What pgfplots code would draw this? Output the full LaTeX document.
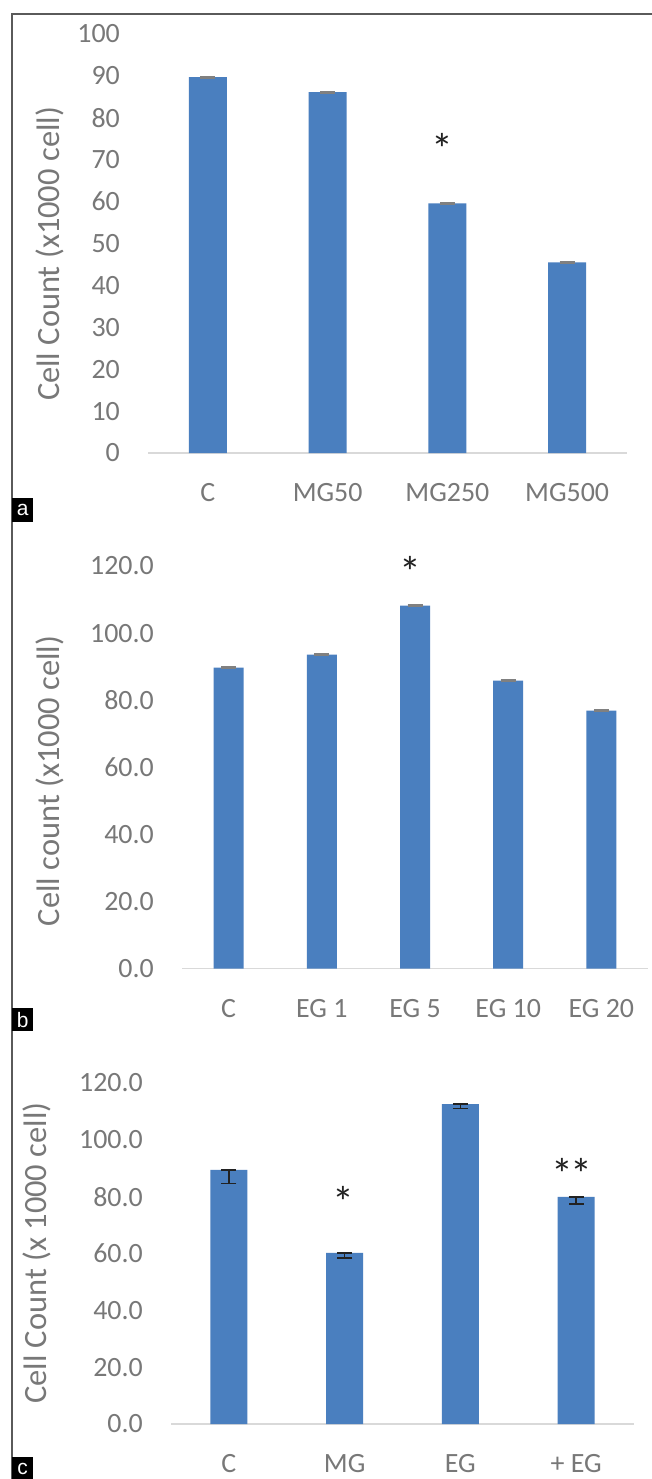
\documentclass[border=0pt]{standalone}
\usepackage{pgfplots}
\pgfplotsset{compat=1.18}
\usepackage{fontspec}
\setmainfont{Carlito}
\newfontfamily\labelfont{Liberation Sans}
\definecolor{barblue}{HTML}{4A7FBF}
\definecolor{txtgrey}{HTML}{787878}
\definecolor{axgrey}{HTML}{D9D9D9}
\definecolor{framegrey}{HTML}{5A5A5A}
\definecolor{errgrey}{HTML}{808080}
\definecolor{starblack}{HTML}{222222}

\pgfplotsset{
  panel/.style={
    scale only axis,
    ybar,
    axis x line=bottom, axis y line=left,
    y axis line style={draw=none},
    x axis line style={draw=axgrey, line width=1.5bp, -},
    major tick length=0pt,
    ymin=0,
    clip=false,
    tick label style={font=\fontsize{28}{30}\selectfont, text=txtgrey},
    yticklabel style={anchor=east, inner sep=0pt, xshift=-28bp},
    xticklabel style={anchor=base, inner sep=0pt, yshift=-48.5bp},
    every axis y label/.style={rotate=90, anchor=center, font=\fontsize{32.6}{36}\selectfont, text=txtgrey},
  },
}
\tikzset{stars/.style={font=\fontsize{44}{46}\selectfont, text=starblack, inner sep=0pt, yshift=-9bp}}

\begin{document}
\begin{tikzpicture}
\path[use as bounding box, fill=white] (0,0) rectangle (652bp,-1479bp);
\draw[framegrey, line width=1.3bp] (12bp,-1479bp) -- (12bp,-14bp) -- (652bp,-14bp);

% ---------- panel a ----------
\begin{axis}[panel,
  at={(148bp,-453bp)}, anchor=south west,
  width=479bp, height=419bp,
  xmin=-0.5, xmax=3.5, ymax=100,
  bar width=38bp,
  xtick={0,1,2,3}, xticklabels={C,MG50,MG250,MG500},
  ytick={0,10,20,30,40,50,60,70,80,90,100},
  yticklabels={0,10,20,30,40,50,60,70,80,90,100},
  ylabel={Cell Count (x1000 cell)},
  ylabel style={at={(axis description cs:-0.2046,0.475)}},
]
\addplot[fill=barblue, draw=none,
  error bars/.cd, y dir=both, y explicit,
  error bar style={draw=errgrey, line width=1.2bp},
  error mark options={draw=errgrey, rotate=90, mark size=7.5bp, line width=1.5bp}]
  coordinates {(0,89.7) +- (0,0.15) (1,86.1) +- (0,0.15) (2,59.6) +- (0,0.15) (3,45.5) +- (0,0.15)};
\node[stars] at (axis cs:1.96,74.6) {*};
\end{axis}

% ---------- panel b ----------
\begin{axis}[panel,
  at={(182bp,-968.5bp)}, anchor=south west,
  width=466bp, height=402.5bp,
  xmin=-0.5, xmax=4.5, ymax=120,
  bar width=30bp,
  xtick={0,1,2,3,4}, xticklabels={C,EG 1,EG 5,EG 10,EG 20},
  ytick={0,20,40,60,80,100,120},
  yticklabels={0.0,20.0,40.0,60.0,80.0,100.0,120.0},
  ylabel={Cell count (x1000 cell)},
  ylabel style={at={(axis description cs:-0.283,0.466)}},
]
\addplot[fill=barblue, draw=none,
  error bars/.cd, y dir=both, y explicit,
  error bar style={draw=errgrey, line width=1.2bp},
  error mark options={draw=errgrey, rotate=90, mark size=7.5bp, line width=1.5bp}]
  coordinates {(0,89.7) +- (0,0.15) (1,93.6) +- (0,0.15) (2,108.2) +- (0,0.15) (3,85.8) +- (0,0.15) (4,76.9) +- (0,0.15)};
\node[stars] at (axis cs:1.946,120.9) {*};
\end{axis}

% ---------- panel c ----------
\begin{axis}[panel,
  at={(171bp,-1424bp)}, anchor=south west,
  width=463bp, height=341bp,
  xmin=-0.5, xmax=3.5, ymax=120,
  bar width=37bp,
  xtick={0,1,2,3}, xticklabels={C,MG,EG,+ EG},
  ytick={0,20,40,60,80,100,120},
  yticklabels={0.0,20.0,40.0,60.0,80.0,100.0,120.0},
  ylabel={Cell Count (x 1000 cell)},
  ylabel style={at={(axis description cs:-0.289,0.501)}},
]
\addplot[fill=barblue, draw=none,
  error bars/.cd, y dir=both, y explicit,
  error bar style={draw=starblack, line width=1.5bp},
  error mark options={draw=starblack, rotate=90, mark size=7.5bp, line width=1.5bp}]
  coordinates {(0,89.4) += (0,0) -= (0,4.7) (1,60.2) += (0,0) -= (0,1.8) (2,112.6) += (0,0) -= (0,1.6) (3,79.9) += (0,0) -= (0,2.5)};
\node[stars] at (axis cs:0.986,81.3) {*};
\node[stars] at (axis cs:2.964,91.1) {*\kern-3bp*};
\end{axis}

% ---------- panel labels ----------
\node[fill=black, text=white, font=\labelfont\fontsize{21}{21}\selectfont, minimum width=21bp, minimum height=24bp, inner sep=0pt, anchor=north west] at (12bp,-498bp) {a};
\node[fill=black, text=white, font=\labelfont\fontsize{21}{21}\selectfont, minimum width=21bp, minimum height=23bp, inner sep=0pt, anchor=north west] at (12bp,-1008bp) {b};
\node[fill=black, text=white, font=\labelfont\fontsize{21}{21}\selectfont, minimum width=21bp, minimum height=23bp, inner sep=0pt, anchor=north west] at (12bp,-1457bp) {c};
\end{tikzpicture}
\end{document}
